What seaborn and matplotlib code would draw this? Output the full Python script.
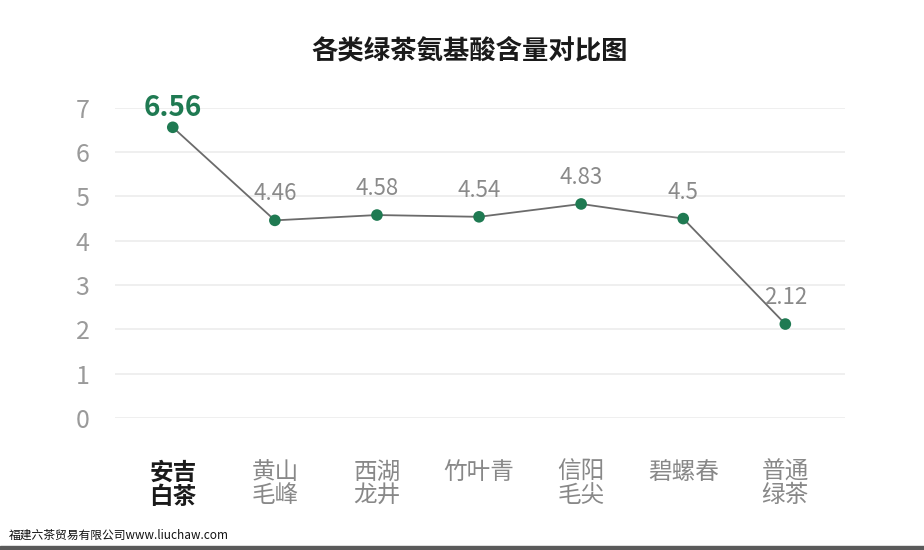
import numpy as np
import pandas as pd
import matplotlib
matplotlib.use("Agg")
import matplotlib.pyplot as plt
from matplotlib.patches import Rectangle
import seaborn as sns

# data
teas = ["安吉\n白茶", "黄山\n毛峰", "西湖\n龙井", "竹叶青", "信阳\n毛尖", "碧螺春", "普通\n绿茶"]
amino = [6.56, 4.46, 4.58, 4.54, 4.83, 4.5, 2.12]
value_labels = ["6.56", "4.46", "4.58", "4.54", "4.83", "4.5", "2.12"]
yticks = [0, 1, 2, 3, 4, 5, 6, 7]

df = pd.DataFrame({"pos": np.arange(len(teas)), "amino": amino})

sns.set_theme(style="whitegrid")
plt.rcParams["font.family"] = ["Noto Sans CJK SC", "DejaVu Sans"]

fig = plt.figure(figsize=(9.24, 5.5), dpi=100)
ax = fig.add_axes([0.124, 0.24, 0.79, 0.564])

green = "#1f7a52"
sns.lineplot(data=df, x="pos", y="amino", color="#6b6b6b", linewidth=1.3, ax=ax, zorder=2)
sns.scatterplot(data=df, x="pos", y="amino", color=green, s=70, edgecolor="none", ax=ax, zorder=3)

for i, (v, lab) in enumerate(zip(amino, value_labels)):
    if i == 0:
        ax.annotate(lab, (i, v), xytext=(0, 14), textcoords="offset points", ha="center",
                    va="center", fontsize=20, fontweight="bold", color=green, annotation_clip=False)
    else:
        ax.annotate(lab, (i, v), xytext=(0, 19), textcoords="offset points", ha="center",
                    va="center", fontsize=16, color="#8a8a8a", annotation_clip=False)

ax.set_xlim(-0.57, 6.58)
ax.set_ylim(0, 7)
ax.set_yticks(yticks)
ax.set_yticklabels([str(t) for t in yticks], fontsize=18, color="#9a9a9a")
ax.set_xticks(df["pos"])
ax.set_xticklabels(teas, fontsize=17, color="#888888", linespacing=1.0)
ax.get_xticklabels()[0].set_color("#1a1a1a")
ax.get_xticklabels()[0].set_fontweight("bold")
ax.tick_params(axis="x", pad=31, length=0)
ax.tick_params(axis="y", pad=18, length=0)
ax.grid(axis="x", visible=False)
ax.grid(axis="y", color="#ececec", linewidth=1.2)
for s in ax.spines.values():
    s.set_visible(False)
ax.set_xlabel("")
ax.set_ylabel("")

fig.text(0.508, 0.908, "各类绿茶氨基酸含量对比图", ha="center", va="center",
         fontsize=19, fontweight="bold", color="#1a1a1a")
fig.text(0.01, 0.027, "福建六茶贸易有限公司www.liuchaw.com", ha="left", va="center",
         fontsize=8.5, color="#111111")
fig.add_artist(Rectangle((0, 0), 1, 0.008, transform=fig.transFigure, color="#5a5a5a"))

fig.savefig("out.png", dpi=100)
